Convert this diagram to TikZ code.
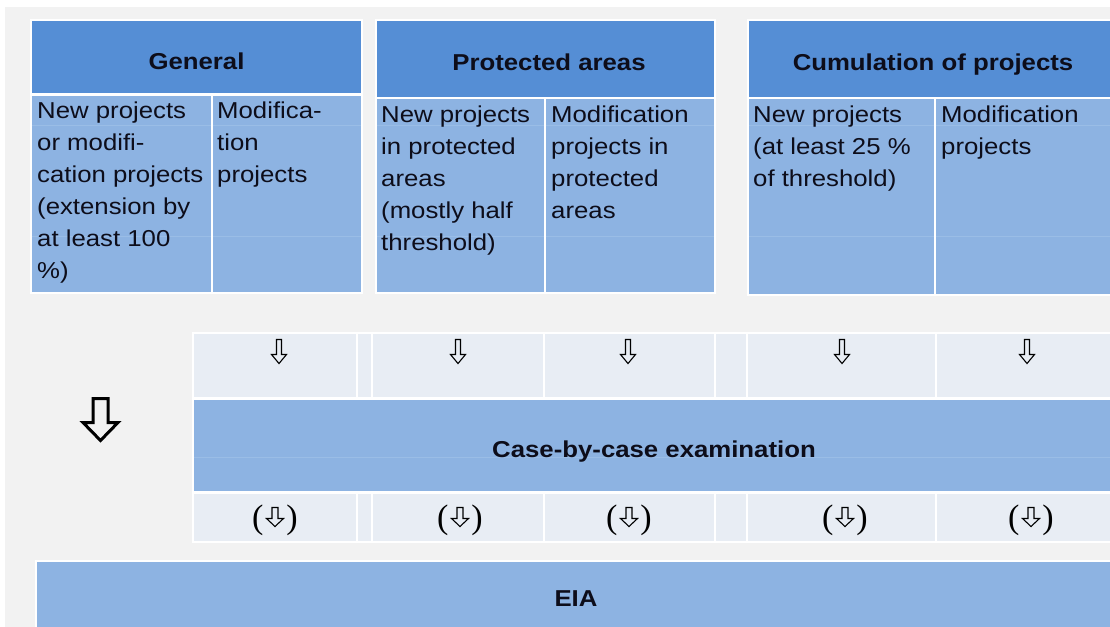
\documentclass[tikz,border=0pt]{standalone}
\usepackage{fontspec}
\setmainfont[FakeStretch=1.12]{Liberation Sans}
\newfontfamily\seriffont{Liberation Serif}
\definecolor{bgrey}{HTML}{F2F2F2}
\definecolor{hdrblue}{HTML}{558ED5}
\definecolor{bodyblue}{HTML}{8DB3E2}
\definecolor{rowlight}{HTML}{E8EDF4}
\definecolor{faint}{HTML}{9ABDE6}
\definecolor{txt}{HTML}{0D0D1A}
\newcommand{\celllines}[1]{\begin{tabular}[t]{@{}l@{}}#1\end{tabular}}
% hollow down arrow: centre x, centre y, length, head width, shaft width, head length, style
\newcommand{\hollowdown}[7]{%
  \draw[#7] ({#1-#5/2},{#2-#3/2}) -- ({#1+#5/2},{#2-#3/2}) -- ({#1+#5/2},{#2+#3/2-#6})
    -- ({#1+#4/2},{#2+#3/2-#6}) -- ({#1},{#2+#3/2}) -- ({#1-#4/2},{#2+#3/2-#6})
    -- ({#1-#5/2},{#2+#3/2-#6}) -- cycle;}
\tikzset{
  cell/.style={draw=white, line width=1.5pt, inner sep=0, outer sep=0, anchor=north west},
  hdrcell/.style={cell, fill=hdrblue},
  bodycell/.style={cell, fill=bodyblue},
  rowcell/.style={cell, fill=rowlight},
  hdrtext/.style={font=\fontsize{23}{32}\selectfont\bfseries, text=txt, anchor=base, inner sep=0},
  bodytext/.style={font=\fontsize{23}{32}\selectfont, text=txt, anchor=base west, inner sep=0},
  arrowline/.style={draw=black, line width=1.1pt, line join=miter},
  bigarrowline/.style={draw=black, line width=3pt, line join=miter},
  paren/.style={font=\seriffont\fontsize{34}{36}\selectfont, text=black, inner sep=0, anchor=base},
  faintline/.style={draw=faint, line width=0.8pt}
}
\begin{document}
\begin{tikzpicture}[x=1pt,y=-1pt]
\useasboundingbox (0,0) rectangle (1110,626);
\fill[white] (0,0) rectangle (1110,626);
\fill[bgrey] (5,7) rectangle (1112,628);

% headers
\node[hdrcell, minimum width=331, minimum height=74] (genH) at (31,20) {};
\node[hdrcell, minimum width=339, minimum height=78] (proH) at (376,20) {};
\node[hdrcell, minimum width=370, minimum height=78] (cumH) at (748,20) {};
\node[hdrtext] (genT) at (196.5,70) {General};
\node[hdrtext] (proT) at (549,70.5) {Protected areas};
\node[hdrtext] (cumT) at (933,70.5) {Cumulation of projects};

% bodies
\node[bodycell, minimum width=181, minimum height=198] (gen1) at (31,95) {};
\node[bodycell, minimum width=150, minimum height=198] (gen2) at (212,95) {};
\node[bodycell, minimum width=169, minimum height=195] (pro1) at (376,98) {};
\node[bodycell, minimum width=170, minimum height=195] (pro2) at (545,98) {};
\node[bodycell, minimum width=187, minimum height=197] (cum1) at (748,98) {};
\node[bodycell, minimum width=180, minimum height=197] (cum2) at (935,98) {};
\foreach \n in {gen1,gen2,pro1,pro2,cum1,cum2}{
  \draw[faintline] ([xshift=1pt]\n.west |- 0,125) -- ([xshift=-1pt]\n.east |- 0,125);
  \draw[faintline] ([xshift=1pt]\n.west |- 0,236) -- ([xshift=-1pt]\n.east |- 0,236);
}

\node[bodytext] (gen1T) at (37,118.5) {\celllines{New projects\\or modifi-\\cation projects\\(extension by\\at least 100\\\%)}};
\node[bodytext] (gen2T) at (217,118.5) {\celllines{Modifica-\\tion\\projects}};
\node[bodytext] (pro1T) at (381,122) {\celllines{New projects\\in protected\\areas\\(mostly half\\threshold)}};
\node[bodytext] (pro2T) at (551,122) {\celllines{Modification\\projects in\\protected\\areas}};
\node[bodytext] (cum1T) at (753,122) {\celllines{New projects\\(at least 25 \%\\of threshold)}};
\node[bodytext] (cum2T) at (941,122) {\celllines{Modification\\projects}};

% first arrow row
\node[rowcell, minimum width=164, minimum height=65] (r1a) at (193,333) {};
\node[rowcell, minimum width=15, minimum height=65] (r1g1) at (357,333) {};
\node[rowcell, minimum width=172, minimum height=65] (r1b) at (372,333) {};
\node[rowcell, minimum width=171, minimum height=65] (r1c) at (544,333) {};
\node[rowcell, minimum width=32, minimum height=65] (r1g2) at (715,333) {};
\node[rowcell, minimum width=189, minimum height=65] (r1d) at (747,333) {};
\node[rowcell, minimum width=180, minimum height=65] (r1e) at (936,333) {};
\foreach \cx in {279,458,628,842,1027}{
  \hollowdown{\cx}{351.5}{24}{15}{5}{9}{arrowline}
}

% case by case
\node[bodycell, minimum width=925, minimum height=93] (cbc) at (193,399) {};
\draw[faintline] ([xshift=1pt]cbc.west |- 0,457) -- ([xshift=-1pt]cbc.east |- 0,457);
\node[hdrtext] (cbcT) at (654,457) {Case-by-case examination};

% big arrow
\hollowdown{100.5}{419.5}{42}{35}{15}{18}{bigarrowline}

% second arrow row
\node[rowcell, minimum width=164, minimum height=49] (r2a) at (193,493) {};
\node[rowcell, minimum width=15, minimum height=49] (r2g1) at (357,493) {};
\node[rowcell, minimum width=172, minimum height=49] (r2b) at (372,493) {};
\node[rowcell, minimum width=171, minimum height=49] (r2c) at (544,493) {};
\node[rowcell, minimum width=32, minimum height=49] (r2g2) at (715,493) {};
\node[rowcell, minimum width=189, minimum height=49] (r2d) at (747,493) {};
\node[rowcell, minimum width=180, minimum height=49] (r2e) at (936,493) {};
\foreach \cx/\nm in {275/b1,460/b2,629/b3,845/b4,1031/b5}{
  \node[paren] (\nm) at (\cx,528) {(\hspace{23pt})};
  \hollowdown{\cx}{517}{19}{17}{6}{8}{arrowline}
}

% EIA
\node[bodycell, minimum width=1090, minimum height=80] (eia) at (36,561) {};
\node[hdrtext] (eiaT) at (576,606) {EIA};
\end{tikzpicture}
\end{document}
